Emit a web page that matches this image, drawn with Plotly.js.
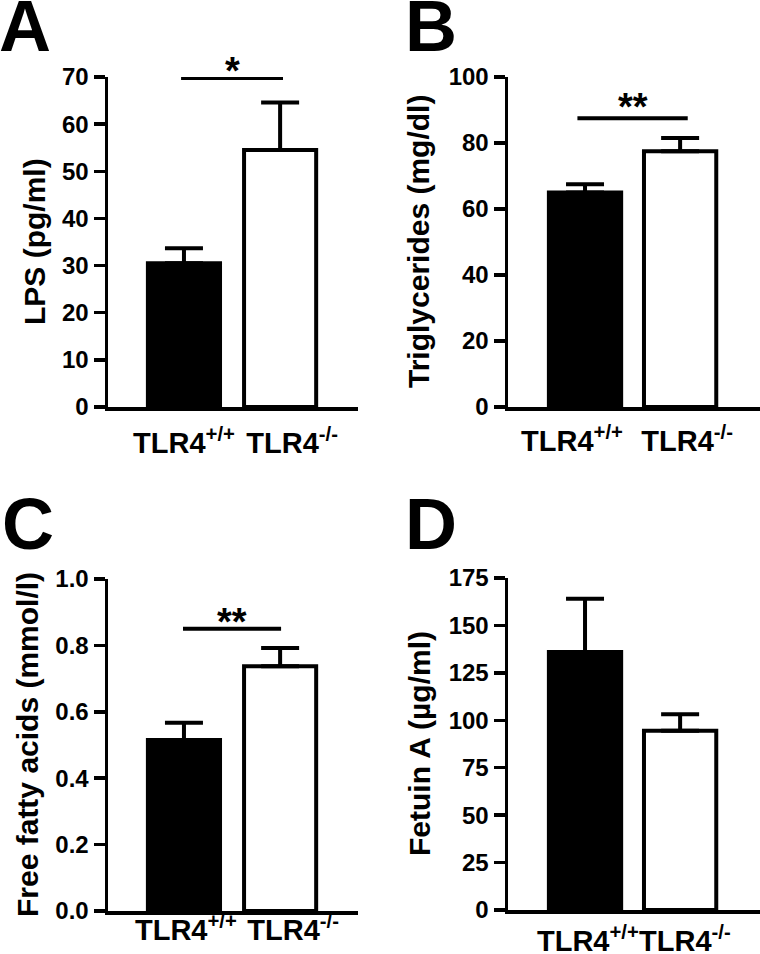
<!DOCTYPE html>
<html>
<head>
<meta charset="utf-8">
<script src="https://cdn.plot.ly/plotly-3.0.1.min.js"></script>
<style>html,body{margin:0;padding:0;background:#fff;}#chart{width:760px;height:954px;}</style>
</head>
<body>
<div id="chart"></div>
<script>
// ---- data ----
const groups = ['TLR4<sup>+/+</sup>', 'TLR4<sup>-/-</sup>'];
const lpsMean = [30.5, 54.5];
const lpsSem = [3.2, 10.1];
const tgMean = [65.0, 77.5];
const tgSem = [2.5, 4.0];
const ffaMean = [0.515, 0.737];
const ffaSem = [0.052, 0.055];
const fetuinMean = [136, 94.5];
const fetuinSem = [28, 8.7];
const panelLetters = ['A', 'B', 'C', 'D'];
const yTitles = ['LPS (pg/ml)', 'Triglycerides (mg/dl)', 'Free fatty acids (mmol/l)', 'Fetuin A (µg/ml)'];
const yMax = [70, 100, 1.0, 175];
const yDtick = [10, 20, 0.2, 25];
const sigLevel = [70, 87.5, 0.85, null];
const sigText = ['*', '**', '**', ''];

// ---- layout helpers ----
const W = 760, H = 954;
const FONT = 'Liberation Sans, Arial, Helvetica, sans-serif';
const px2x = p => p / W;
const px2y = p => 1 - p / H;
const barColors = ['#000000', '#ffffff'];
const groupIdx = groups.map((_, k) => k);

// label nudges (in bar-slot units) reproduce the reference's label placement
const panels = [
  {mean: lpsMean, sem: lpsSem, xd: [108, 358], yd: [77, 407], xr: [-0.79, 1.81], bw: 0.75, titleX: 35, letterX: -3, letterY: -16, standoff: 8, nudge: [0, 0.125], sigPad: 0.03, sigW: 6, starShift: 6},
  {mean: tgMean, sem: tgSem, xd: [508, 760], yd: [77, 407], xr: [-0.81, 1.84], bw: 0.76, titleX: 419, letterX: 403, letterY: -16, standoff: 6, nudge: [-0.137, 0.074], sigPad: 0.08, sigW: 4, starShift: 11},
  {mean: ffaMean, sem: ffaSem, xd: [108, 358], yd: [579, 911], xr: [-0.79, 1.81], bw: 0.75, titleX: 27, letterX: 0, letterY: 482, standoff: -9, nudge: [0.02, 0.135], sigPad: 0.01, sigW: 4, starShift: 7},
  {mean: fetuinMean, sem: fetuinSem, xd: [508, 760], yd: [578, 910], xr: [-0.81, 1.84], bw: 0.76, titleX: 419, letterX: 403, letterY: 482, standoff: 3, nudge: [0.03, 0.05], sigPad: 0, sigW: 4, starShift: 8}
];

const data = [];
const layout = {
  width: W, height: H,
  margin: {l: 0, r: 0, t: 0, b: 0},
  paper_bgcolor: '#fff', plot_bgcolor: 'rgba(0,0,0,0)',
  showlegend: false,
  font: {family: FONT, color: '#000', weight: 'bold'},
  annotations: [], shapes: []
};

panels.forEach((p, i) => {
  const n = i === 0 ? '' : String(i + 1);
  const xa = 'x' + n, ya = 'y' + n;
  data.push({
    type: 'bar', x: groupIdx, y: p.mean, text: groups,
    xaxis: xa, yaxis: ya, width: p.bw, textposition: 'none',
    marker: {color: barColors, line: {color: '#000', width: 4}},
    error_y: {type: 'data', symmetric: false, array: p.sem, arrayminus: p.sem.map(() => 0),
              color: '#000', thickness: 4, width: 19},
    hoverinfo: 'skip'
  });
  layout['xaxis' + n] = {
    domain: [px2x(p.xd[0]), px2x(p.xd[1])], anchor: ya,
    type: 'linear', range: p.xr, fixedrange: true,
    tickmode: 'array', tickvals: groupIdx.map((k) => k + p.nudge[k]), ticktext: groups,
    showline: true, linewidth: 3.5, linecolor: '#000',
    ticks: '', showgrid: false, zeroline: false,
    tickangle: 0, automargin: false,
    ticklabelstandoff: p.standoff,
    tickfont: {family: FONT, size: 29, color: '#000', weight: 'bold'}
  };
  layout['yaxis' + n] = {
    domain: [px2y(p.yd[1]), px2y(p.yd[0])], anchor: xa,
    range: [0, yMax[i]], dtick: yDtick[i], tick0: 0,
    tickformat: i === 2 ? '.1f' : 'd',
    showline: true, linewidth: 3.5, linecolor: '#000',
    ticks: 'outside', ticklen: 11, tickwidth: 3.5, tickcolor: '#000',
    showgrid: false, zeroline: false, fixedrange: true,
    tickfont: {family: FONT, size: 24, color: '#000', weight: 'bold'}
  };
  // y titles
  layout.annotations.push({
    xref: 'paper', yref: 'paper', x: px2x(p.titleX), y: px2y((p.yd[0] + p.yd[1]) / 2),
    xanchor: 'center', yanchor: 'middle', textangle: -90, showarrow: false,
    text: yTitles[i], font: {family: FONT, size: 30, color: '#000', weight: 'bold'}
  });
  // panel letter
  layout.annotations.push({
    xref: 'paper', yref: 'paper', x: px2x(p.letterX), y: px2y(p.letterY),
    xanchor: 'left', yanchor: 'top', showarrow: false,
    text: panelLetters[i], font: {family: FONT, size: 72, color: '#000', weight: 'bold'}
  });
  // significance
  if (sigLevel[i] !== null) {
    layout.shapes.push({
      type: 'line', xref: xa, yref: ya,
      x0: 0 - p.sigPad, x1: 1 + p.sigPad, y0: sigLevel[i], y1: sigLevel[i],
      line: {color: '#000', width: p.sigW}
    });
    layout.annotations.push({
      xref: xa, yref: ya, x: 0.5, y: sigLevel[i],
      xanchor: 'center', yanchor: 'middle', yshift: p.starShift, showarrow: false,
      text: sigText[i], font: {family: FONT, size: 38, color: '#000', weight: 'bold'}
    });
  }
});

Plotly.newPlot('chart', data, layout, {displayModeBar: false, staticPlot: true});
</script>
</body>
</html>
